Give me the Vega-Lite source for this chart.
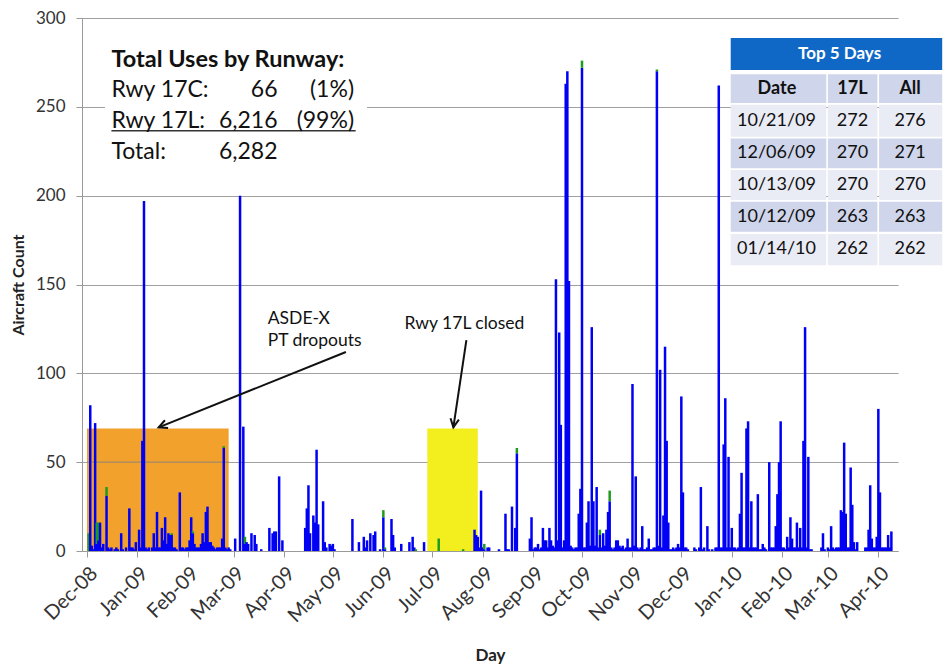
{
  "$schema": "https://vega.github.io/schema/vega-lite/v6.json",
  "width": 816,
  "height": 533,
  "autosize": {"type": "none"},
  "padding": {"left": 82, "top": 18, "right": 50, "bottom": 113},
  "background": "white",
  "config": {"font": "Lato", "view": {"stroke": null}},
  "datasets": {
    "days": [
      {"x":"2008-12-02","C":10},{"x":"2008-12-03","L":82},{"x":"2008-12-04","L":3},{"x":"2008-12-05","L":1},{"x":"2008-12-06","L":72},
      {"x":"2008-12-07","L":4,"C":12},{"x":"2008-12-08","L":6,"C":10},{"x":"2008-12-09","L":16},{"x":"2008-12-10","L":2},{"x":"2008-12-11","L":4},
      {"x":"2008-12-13","L":31,"C":5},{"x":"2008-12-14","L":2},{"x":"2008-12-15","L":1},{"x":"2008-12-16","L":2},{"x":"2008-12-18","L":1},
      {"x":"2008-12-19","L":2},{"x":"2008-12-20","L":1},{"x":"2008-12-22","L":10},{"x":"2008-12-23","L":1},{"x":"2008-12-25","L":2},
      {"x":"2008-12-27","L":24},{"x":"2008-12-28","L":2},{"x":"2008-12-29","L":2},{"x":"2008-12-30","L":1},{"x":"2008-12-31","L":5},
      {"x":"2009-01-02","L":12},{"x":"2009-01-03","L":2},{"x":"2009-01-04","L":62},{"x":"2009-01-05","L":197},{"x":"2009-01-06","L":2},
      {"x":"2009-01-07","L":1},{"x":"2009-01-08","L":2},{"x":"2009-01-10","L":2},{"x":"2009-01-11","L":10},{"x":"2009-01-12","L":2},
      {"x":"2009-01-13","L":22},{"x":"2009-01-14","L":2},{"x":"2009-01-15","L":2},{"x":"2009-01-16","L":13},{"x":"2009-01-17","L":6},
      {"x":"2009-01-18","L":19},{"x":"2009-01-19","L":4},{"x":"2009-01-20","L":10},{"x":"2009-01-21","L":9},{"x":"2009-01-22","L":9,"C":1},
      {"x":"2009-01-23","L":2},{"x":"2009-01-24","L":2},{"x":"2009-01-25","L":1},{"x":"2009-01-27","L":33},{"x":"2009-01-28","L":2},
      {"x":"2009-01-29","L":2},{"x":"2009-01-30","L":1},{"x":"2009-01-31","L":2},
      {"x":"2009-02-01","L":2},{"x":"2009-02-02","L":6},{"x":"2009-02-03","L":19},{"x":"2009-02-04","L":10,"C":1},{"x":"2009-02-05","L":4},
      {"x":"2009-02-06","L":2},{"x":"2009-02-07","L":2},{"x":"2009-02-08","L":2},{"x":"2009-02-09","L":4},{"x":"2009-02-10","L":10},
      {"x":"2009-02-11","L":5},{"x":"2009-02-12","L":22},{"x":"2009-02-13","L":25},{"x":"2009-02-14","L":5},{"x":"2009-02-15","L":5},
      {"x":"2009-02-16","L":3},{"x":"2009-02-17","L":2},{"x":"2009-02-18","L":1},{"x":"2009-02-19","L":2},{"x":"2009-02-20","L":2},
      {"x":"2009-02-21","L":2},{"x":"2009-02-22","L":7},{"x":"2009-02-23","L":58,"C":1},{"x":"2009-02-24","L":2},{"x":"2009-02-25","L":1},
      {"x":"2009-02-26","L":2},{"x":"2009-02-27","L":1},
      {"x":"2009-03-02","L":7},{"x":"2009-03-05","L":200},{"x":"2009-03-07","L":70},{"x":"2009-03-08","L":4,"C":4},{"x":"2009-03-09","L":5},
      {"x":"2009-03-10","L":4},{"x":"2009-03-12","L":10},{"x":"2009-03-14","L":9},{"x":"2009-03-15","L":4},{"x":"2009-03-18","L":1},
      {"x":"2009-03-23","L":13},{"x":"2009-03-25","L":10},{"x":"2009-03-26","L":11},{"x":"2009-03-27","L":11},{"x":"2009-03-29","L":42},
      {"x":"2009-03-31","L":6},
      {"x":"2009-04-14","L":13},{"x":"2009-04-15","L":24},{"x":"2009-04-16","L":37},{"x":"2009-04-17","L":10},{"x":"2009-04-19","L":20},
      {"x":"2009-04-20","L":16},{"x":"2009-04-21","L":57},{"x":"2009-04-22","L":15},{"x":"2009-04-25","L":28},{"x":"2009-04-26","L":5},
      {"x":"2009-04-27","L":2},{"x":"2009-04-29","L":4},{"x":"2009-04-30","L":3},
      {"x":"2009-05-01","L":4},{"x":"2009-05-02","L":1},{"x":"2009-05-13","L":18},{"x":"2009-05-17","L":5},{"x":"2009-05-20","L":8},
      {"x":"2009-05-21","L":2},{"x":"2009-05-22","L":6},{"x":"2009-05-24","L":10},{"x":"2009-05-26","L":9},{"x":"2009-05-27","L":11},
      {"x":"2009-05-30","L":1},
      {"x":"2009-06-01","L":19,"C":4},{"x":"2009-06-02","L":1,"C":1},{"x":"2009-06-06","L":18},{"x":"2009-06-07","L":9},{"x":"2009-06-08","L":2},
      {"x":"2009-06-12","L":4},{"x":"2009-06-17","L":5},{"x":"2009-06-19","L":8},{"x":"2009-06-20","L":2},{"x":"2009-06-21","C":1},
      {"x":"2009-06-26","L":5},
      {"x":"2009-07-05","C":7},{"x":"2009-07-20","C":1},{"x":"2009-07-27","L":12},{"x":"2009-07-28","L":9},{"x":"2009-07-29","L":8},
      {"x":"2009-07-30","L":2},{"x":"2009-07-31","L":34},
      {"x":"2009-08-01","L":2},{"x":"2009-08-02","L":1,"C":3},{"x":"2009-08-04","L":2},{"x":"2009-08-05","L":2},{"x":"2009-08-11","L":1},
      {"x":"2009-08-15","L":21},{"x":"2009-08-16","L":1},{"x":"2009-08-17","L":1},{"x":"2009-08-19","L":25},{"x":"2009-08-21","L":13},
      {"x":"2009-08-22","L":55,"C":3},{"x":"2009-08-30","L":7},{"x":"2009-08-31","L":19},
      {"x":"2009-09-01","L":1},{"x":"2009-09-02","L":2},{"x":"2009-09-03","L":2},{"x":"2009-09-04","L":4},{"x":"2009-09-05","L":1},
      {"x":"2009-09-06","L":2},{"x":"2009-09-07","L":13},{"x":"2009-09-08","L":6},{"x":"2009-09-09","L":6},{"x":"2009-09-10","L":2},
      {"x":"2009-09-11","L":13},{"x":"2009-09-12","L":6},{"x":"2009-09-13","L":3},{"x":"2009-09-14","L":2},{"x":"2009-09-15","L":153},
      {"x":"2009-09-16","L":6},{"x":"2009-09-17","L":123},{"x":"2009-09-18","L":71},{"x":"2009-09-19","L":2},{"x":"2009-09-20","L":6},
      {"x":"2009-09-21","L":263},{"x":"2009-09-22","L":270},{"x":"2009-09-23","L":152},{"x":"2009-09-24","L":3},{"x":"2009-09-25","L":2},
      {"x":"2009-09-26","L":1},{"x":"2009-09-27","L":2},{"x":"2009-09-28","L":2},{"x":"2009-09-29","L":21},{"x":"2009-09-30","L":35},
      {"x":"2009-10-01","L":272,"C":4},{"x":"2009-10-02","L":2},{"x":"2009-10-03","L":2},{"x":"2009-10-04","L":16},{"x":"2009-10-05","L":28},
      {"x":"2009-10-06","L":3},{"x":"2009-10-07","L":126},{"x":"2009-10-08","L":28},{"x":"2009-10-09","L":3},{"x":"2009-10-10","L":36},
      {"x":"2009-10-11","L":2},{"x":"2009-10-12","L":9,"C":3},{"x":"2009-10-13","L":2},{"x":"2009-10-14","L":10},{"x":"2009-10-15","L":3},
      {"x":"2009-10-16","L":12},{"x":"2009-10-17","L":22},{"x":"2009-10-18","L":28,"C":6},{"x":"2009-10-19","L":2},{"x":"2009-10-20","L":1},
      {"x":"2009-10-21","L":2},{"x":"2009-10-22","L":6},{"x":"2009-10-23","L":6},{"x":"2009-10-24","L":3},{"x":"2009-10-25","L":2},
      {"x":"2009-10-26","L":3},{"x":"2009-10-27","L":1},{"x":"2009-10-28","L":2},{"x":"2009-10-29","L":7},{"x":"2009-10-30","L":2},
      {"x":"2009-10-31","L":2},
      {"x":"2009-11-01","L":94},{"x":"2009-11-02","L":3},{"x":"2009-11-03","L":42},{"x":"2009-11-04","L":2},{"x":"2009-11-05","L":1},
      {"x":"2009-11-06","L":2},{"x":"2009-11-07","L":14},{"x":"2009-11-08","L":1},{"x":"2009-11-09","L":1},{"x":"2009-11-10","L":2},
      {"x":"2009-11-11","L":7},{"x":"2009-11-12","L":1},{"x":"2009-11-13","L":1},{"x":"2009-11-14","L":2},{"x":"2009-11-15","L":2},
      {"x":"2009-11-16","L":270,"C":1},{"x":"2009-11-17","L":3},{"x":"2009-11-18","L":102},{"x":"2009-11-19","L":2},{"x":"2009-11-20","L":20},
      {"x":"2009-11-21","L":115},{"x":"2009-11-22","L":62},{"x":"2009-11-23","L":16},{"x":"2009-11-24","L":1},{"x":"2009-11-25","L":1},
      {"x":"2009-11-26","L":2},{"x":"2009-11-27","L":1},{"x":"2009-11-28","L":2},{"x":"2009-11-29","L":4},{"x":"2009-11-30","L":2},
      {"x":"2009-12-01","L":87},{"x":"2009-12-02","L":33},{"x":"2009-12-03","L":2},{"x":"2009-12-04","L":2},{"x":"2009-12-05","L":1},
      {"x":"2009-12-09","L":2},{"x":"2009-12-10","L":1},{"x":"2009-12-12","L":2},{"x":"2009-12-13","L":36},{"x":"2009-12-14","L":1},
      {"x":"2009-12-15","L":2},{"x":"2009-12-17","L":14},{"x":"2009-12-18","L":1},{"x":"2009-12-20","L":1},{"x":"2009-12-22","L":2},
      {"x":"2009-12-23","L":2},{"x":"2009-12-24","L":262},{"x":"2009-12-25","L":2},{"x":"2009-12-26","L":2},{"x":"2009-12-27","L":60},
      {"x":"2009-12-28","L":86},{"x":"2009-12-29","L":2},{"x":"2009-12-30","L":53},{"x":"2009-12-31","L":2},
      {"x":"2010-01-01","L":13},{"x":"2010-01-02","L":2},{"x":"2010-01-03","L":2},{"x":"2010-01-04","L":1},{"x":"2010-01-05","L":2},
      {"x":"2010-01-06","L":21},{"x":"2010-01-07","L":44},{"x":"2010-01-08","L":2},{"x":"2010-01-09","L":2},{"x":"2010-01-10","L":69},
      {"x":"2010-01-11","L":73},{"x":"2010-01-12","L":2},{"x":"2010-01-13","L":28},{"x":"2010-01-14","L":2},{"x":"2010-01-15","L":2},
      {"x":"2010-01-16","L":2},{"x":"2010-01-17","L":32},{"x":"2010-01-18","L":1},{"x":"2010-01-19","L":1},{"x":"2010-01-20","L":4},
      {"x":"2010-01-21","L":2},{"x":"2010-01-22","L":1},{"x":"2010-01-24","L":50},{"x":"2010-01-25","L":2},{"x":"2010-01-26","L":2},
      {"x":"2010-01-27","L":2},{"x":"2010-01-28","L":14},{"x":"2010-01-29","L":32},{"x":"2010-01-30","L":50},{"x":"2010-01-31","L":73},
      {"x":"2010-02-01","L":2},{"x":"2010-02-02","L":2},{"x":"2010-02-03","L":1},{"x":"2010-02-04","L":8},{"x":"2010-02-05","L":2},
      {"x":"2010-02-06","L":19},{"x":"2010-02-07","L":7},{"x":"2010-02-08","L":2},{"x":"2010-02-09","L":2},{"x":"2010-02-10","L":16},
      {"x":"2010-02-11","L":2},{"x":"2010-02-12","L":13},{"x":"2010-02-13","L":2},{"x":"2010-02-14","L":62},{"x":"2010-02-15","L":126},
      {"x":"2010-02-16","L":2},{"x":"2010-02-17","L":53},{"x":"2010-02-18","L":1},{"x":"2010-02-19","L":1},{"x":"2010-02-25","L":2},
      {"x":"2010-02-26","L":10},{"x":"2010-02-27","L":1},
      {"x":"2010-03-01","L":2},{"x":"2010-03-02","L":1},{"x":"2010-03-03","L":14},{"x":"2010-03-04","L":2},{"x":"2010-03-05","L":1},
      {"x":"2010-03-06","L":2},{"x":"2010-03-07","L":2},{"x":"2010-03-08","L":2},{"x":"2010-03-09","L":23},{"x":"2010-03-10","L":22},
      {"x":"2010-03-11","L":61},{"x":"2010-03-12","L":21},{"x":"2010-03-13","L":2},{"x":"2010-03-14","L":2},{"x":"2010-03-15","L":47},
      {"x":"2010-03-16","L":26},{"x":"2010-03-17","L":5},{"x":"2010-03-18","L":1},{"x":"2010-03-19","L":5},{"x":"2010-03-24","L":2},
      {"x":"2010-03-25","L":2},{"x":"2010-03-26","L":12},{"x":"2010-03-27","L":37},{"x":"2010-03-28","L":7},{"x":"2010-03-29","L":2},
      {"x":"2010-03-30","L":2},{"x":"2010-03-31","L":8},
      {"x":"2010-04-01","L":80},{"x":"2010-04-02","L":33},{"x":"2010-04-03","L":2},{"x":"2010-04-04","L":2},{"x":"2010-04-05","L":2},
      {"x":"2010-04-06","L":2},{"x":"2010-04-07","L":9},{"x":"2010-04-08","L":2},{"x":"2010-04-09","L":11}
    ],
    "boxes": [
      {"k":"box","x":"2008-12-12","x2":"2009-05-22","y":211.6,"y2":293},
      {"k":"outage","x":"2008-12-01","x2":"2009-02-26","y":0,"y2":69},
      {"k":"closed","x":"2009-06-28","x2":"2009-07-29","y":0,"y2":69},
      {"k":"head","x":"2009-12-31T08:00:00Z","x2":"2010-05-10T05:00:00Z","y":270.7,"y2":288.7},
      {"k":"dark","x":"2009-12-31T08:00:00Z","x2":"2010-02-28T00:00:00Z","y":252.1,"y2":268.3},
      {"k":"dark","x":"2010-03-01T00:00:00Z","x2":"2010-03-31T10:00:00Z","y":252.1,"y2":268.3},
      {"k":"dark","x":"2010-04-01T11:00:00Z","x2":"2010-05-10T05:00:00Z","y":252.1,"y2":268.3},
      {"k":"light","x":"2009-12-31T08:00:00Z","x2":"2010-02-28T00:00:00Z","y":233.2,"y2":251.2},
      {"k":"light","x":"2010-03-01T00:00:00Z","x2":"2010-03-31T10:00:00Z","y":233.2,"y2":251.2},
      {"k":"light","x":"2010-04-01T11:00:00Z","x2":"2010-05-10T05:00:00Z","y":233.2,"y2":251.2},
      {"k":"dark","x":"2009-12-31T08:00:00Z","x2":"2010-02-28T00:00:00Z","y":215.4,"y2":232.2},
      {"k":"dark","x":"2010-03-01T00:00:00Z","x2":"2010-03-31T10:00:00Z","y":215.4,"y2":232.2},
      {"k":"dark","x":"2010-04-01T11:00:00Z","x2":"2010-05-10T05:00:00Z","y":215.4,"y2":232.2},
      {"k":"light","x":"2009-12-31T08:00:00Z","x2":"2010-02-28T00:00:00Z","y":197.5,"y2":214.4},
      {"k":"light","x":"2010-03-01T00:00:00Z","x2":"2010-03-31T10:00:00Z","y":197.5,"y2":214.4},
      {"k":"light","x":"2010-04-01T11:00:00Z","x2":"2010-05-10T05:00:00Z","y":197.5,"y2":214.4},
      {"k":"dark","x":"2009-12-31T08:00:00Z","x2":"2010-02-28T00:00:00Z","y":179.7,"y2":196.6},
      {"k":"dark","x":"2010-03-01T00:00:00Z","x2":"2010-03-31T10:00:00Z","y":179.7,"y2":196.6},
      {"k":"dark","x":"2010-04-01T11:00:00Z","x2":"2010-05-10T05:00:00Z","y":179.7,"y2":196.6},
      {"k":"light","x":"2009-12-31T08:00:00Z","x2":"2010-02-28T00:00:00Z","y":160.9,"y2":178.4},
      {"k":"light","x":"2010-03-01T00:00:00Z","x2":"2010-03-31T10:00:00Z","y":160.9,"y2":178.4},
      {"k":"light","x":"2010-04-01T11:00:00Z","x2":"2010-05-10T05:00:00Z","y":160.9,"y2":178.4}
    ],
    "lines": [
      {"g":"grid","x":"2008-12-01","x2":"2009-02-26","y":50,"y2":50},
      {"g":"ul","x":"2008-12-16","x2":"2009-05-15","y":236.5,"y2":236.5},
      {"g":"arrow","x":"2009-05-09","x2":"2009-01-14","y":112,"y2":69.6},
      {"g":"arrow","x":"2009-07-22","x2":"2009-07-14","y":118.7,"y2":69.6}
    ],
    "heads": [
      {"g":"a1","x":"2009-01-14","y":69.6},
      {"g":"a2","x":"2009-07-14","y":69.6}
    ],
    "notes": [
      {"g":"title","x":"2008-12-16","y":272.5,"t":"Total Uses by Runway:"},
      {"g":"boxL","x":"2008-12-16","y":255.7,"t":"Rwy 17C:"},
      {"g":"boxL","x":"2008-12-16","y":237.9,"t":"Rwy 17L:"},
      {"g":"boxL","x":"2008-12-16","y":220.4,"t":"Total:"},
      {"g":"boxR","x":"2009-03-28","y":255.7,"t":"66"},
      {"g":"boxR","x":"2009-03-28","y":237.9,"t":"6,216"},
      {"g":"boxR","x":"2009-03-28","y":220.4,"t":"6,282"},
      {"g":"boxR","x":"2009-05-14","y":255.7,"t":"(1%)"},
      {"g":"boxR","x":"2009-05-14","y":237.9,"t":"(99%)"},
      {"g":"ann","x":"2009-03-22","y":127.7,"t":"ASDE-X"},
      {"g":"ann","x":"2009-03-22","y":115.4,"t":"PT dropouts"},
      {"g":"ann","x":"2009-06-14","y":124.9,"t":"Rwy 17L closed"},
      {"g":"thead","x":"2010-03-08T05:00:00Z","y":279.7,"t":"Top 5 Days"},
      {"g":"colh","x":"2010-01-28T17:00:00Z","y":260,"t":"Date"},
      {"g":"colh","x":"2010-03-16T02:00:00Z","y":260,"t":"17L"},
      {"g":"colh","x":"2010-04-20T12:00:00Z","y":260,"t":"All"},
      {"g":"cellL","x":"2010-01-04T05:00:00Z","y":242.1,"t":"10/21/09"},
      {"g":"cellL","x":"2010-01-04T05:00:00Z","y":223.8,"t":"12/06/09"},
      {"g":"cellL","x":"2010-01-04T05:00:00Z","y":206,"t":"10/13/09"},
      {"g":"cellL","x":"2010-01-04T05:00:00Z","y":188.1,"t":"10/12/09"},
      {"g":"cellL","x":"2010-01-04T05:00:00Z","y":169.7,"t":"01/14/10"},
      {"g":"cellC","x":"2010-03-16T02:00:00Z","y":242.1,"t":"272"},
      {"g":"cellC","x":"2010-03-16T02:00:00Z","y":223.8,"t":"270"},
      {"g":"cellC","x":"2010-03-16T02:00:00Z","y":206,"t":"270"},
      {"g":"cellC","x":"2010-03-16T02:00:00Z","y":188.1,"t":"263"},
      {"g":"cellC","x":"2010-03-16T02:00:00Z","y":169.7,"t":"262"},
      {"g":"cellC","x":"2010-04-20T12:00:00Z","y":242.1,"t":"276"},
      {"g":"cellC","x":"2010-04-20T12:00:00Z","y":223.8,"t":"271"},
      {"g":"cellC","x":"2010-04-20T12:00:00Z","y":206,"t":"270"},
      {"g":"cellC","x":"2010-04-20T12:00:00Z","y":188.1,"t":"263"},
      {"g":"cellC","x":"2010-04-20T12:00:00Z","y":169.7,"t":"262"}
    ]
  },
  "encoding": {
    "x": {
      "field": "x", "type": "temporal",
      "scale": {"type": "utc", "domain": ["2008-12-01", "2010-04-10"]},
      "axis": {
        "title": "Day", "format": "%b-%y", "tickCount": {"interval": "month", "step": 1},
        "labelAngle": -45, "labelFontSize": 20, "labelColor": "#333333", "labelPadding": 6,
        "titleFontSize": 17, "titleFontWeight": "bold", "titleColor": "#222222", "titlePadding": 22,
        "grid": false, "domainColor": "#9a9a9a", "tickColor": "#9a9a9a", "tickSize": 6, "labelOverlap": false
      }
    },
    "y": {
      "field": "y", "type": "quantitative",
      "scale": {"domain": [0, 300], "nice": false},
      "axis": {
        "title": "Aircraft Count", "values": [0, 50, 100, 150, 200, 250, 300],
        "labelFontSize": 17, "labelColor": "#333333", "labelPadding": 11,
        "titleFontSize": 16, "titleFontWeight": "bold", "titleColor": "#222222", "titlePadding": 9,
        "grid": true, "gridColor": "#a0a0a0", "gridWidth": 1.2,
        "domainColor": "#9a9a9a", "tickColor": "#9a9a9a", "tickSize": 6
      }
    }
  },
  "layer": [
    {
      "data": {"name": "boxes"},
      "mark": {"type": "rect"},
      "encoding": {
        "x2": {"field": "x2"},
        "y2": {"field": "y2"},
        "fill": {
          "field": "k", "type": "nominal", "legend": null,
          "scale": {"domain": ["box", "outage", "closed", "head", "dark", "light"],
                    "range": ["#FFFFFF", "#F2A12D", "#F3EF1F", "#1068C6", "#CFD5EA", "#E9EBF5"]}
        }
      }
    },
    {
      "data": {"name": "lines"},
      "transform": [{"filter": "datum.g == 'grid'"}],
      "mark": {"type": "rule", "color": "#a08a6a", "strokeWidth": 1.2},
      "encoding": {"x2": {"field": "x2"}, "y2": {"field": "y2"}}
    },
    {
      "data": {"name": "days"},
      "transform": [
        {"fold": ["L", "C"], "as": ["runway", "y"]},
        {"filter": {"field": "y", "valid": true}}
      ],
      "mark": {"type": "bar", "width": 2.5},
      "encoding": {
        "color": {
          "field": "runway", "type": "nominal", "legend": null,
          "scale": {"domain": ["L", "C"], "range": ["#0000F5", "#1E9B1E"]}
        },
        "order": {"field": "runway", "sort": "descending"}
      }
    },
    {
      "data": {"name": "lines"},
      "transform": [{"filter": "datum.g == 'ul'"}],
      "mark": {"type": "rule", "color": "#333333", "strokeWidth": 1.5},
      "encoding": {"x2": {"field": "x2"}, "y2": {"field": "y2"}}
    },
    {
      "data": {"name": "lines"},
      "transform": [{"filter": "datum.g == 'arrow'"}],
      "mark": {"type": "rule", "color": "#111111", "strokeWidth": 2},
      "encoding": {"x2": {"field": "x2"}, "y2": {"field": "y2"}}
    },
    {
      "data": {"name": "heads"},
      "transform": [{"filter": "datum.g == 'a1'"}],
      "mark": {"type": "point", "shape": "M-0.6,1.2L0,0L0.6,1.2", "angle": 248, "size": 200, "filled": false, "color": "#111111", "strokeWidth": 2, "opacity": 1},
      "encoding": {}
    },
    {
      "data": {"name": "heads"},
      "transform": [{"filter": "datum.g == 'a2'"}],
      "mark": {"type": "point", "shape": "M-0.6,1.2L0,0L0.6,1.2", "angle": 189, "size": 200, "filled": false, "color": "#111111", "strokeWidth": 2, "opacity": 1},
      "encoding": {}
    },
    {
      "data": {"name": "notes"},
      "transform": [{"filter": "datum.g == 'title'"}],
      "mark": {"type": "text", "align": "left", "baseline": "alphabetic", "fontSize": 23.5, "fontWeight": "bold", "color": "#111111"},
      "encoding": {"text": {"field": "t"}}
    },
    {
      "data": {"name": "notes"},
      "transform": [{"filter": "datum.g == 'boxL'"}],
      "mark": {"type": "text", "align": "left", "baseline": "alphabetic", "fontSize": 23, "color": "#111111"},
      "encoding": {"text": {"field": "t"}}
    },
    {
      "data": {"name": "notes"},
      "transform": [{"filter": "datum.g == 'boxR'"}],
      "mark": {"type": "text", "align": "right", "baseline": "alphabetic", "fontSize": 23, "color": "#111111"},
      "encoding": {"text": {"field": "t"}}
    },
    {
      "data": {"name": "notes"},
      "transform": [{"filter": "datum.g == 'ann'"}],
      "mark": {"type": "text", "align": "left", "baseline": "alphabetic", "fontSize": 17.5, "color": "#111111"},
      "encoding": {"text": {"field": "t"}}
    },
    {
      "data": {"name": "notes"},
      "transform": [{"filter": "datum.g == 'thead'"}],
      "mark": {"type": "text", "align": "center", "baseline": "middle", "fontSize": 17, "fontWeight": "bold", "color": "#FFFFFF"},
      "encoding": {"text": {"field": "t"}}
    },
    {
      "data": {"name": "notes"},
      "transform": [{"filter": "datum.g == 'colh'"}],
      "mark": {"type": "text", "align": "center", "baseline": "middle", "fontSize": 18, "fontWeight": "bold", "color": "#111111"},
      "encoding": {"text": {"field": "t"}}
    },
    {
      "data": {"name": "notes"},
      "transform": [{"filter": "datum.g == 'cellL'"}],
      "mark": {"type": "text", "align": "left", "baseline": "middle", "fontSize": 18, "color": "#111111"},
      "encoding": {"text": {"field": "t"}}
    },
    {
      "data": {"name": "notes"},
      "transform": [{"filter": "datum.g == 'cellC'"}],
      "mark": {"type": "text", "align": "center", "baseline": "middle", "fontSize": 18, "color": "#111111"},
      "encoding": {"text": {"field": "t"}}
    }
  ]
}
